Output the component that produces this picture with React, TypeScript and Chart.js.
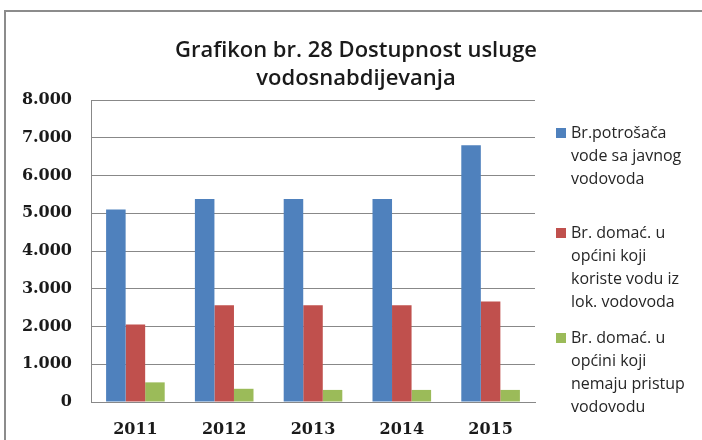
import React, { useEffect, useRef } from "react";
import { Chart, registerables } from "chart.js";

Chart.register(...registerables);

const categories = ["2011", "2012", "2013", "2014", "2015"];
const publicSupply = [5100, 5380, 5380, 5380, 6800];
const localSupply = [2050, 2560, 2560, 2560, 2660];
const noAccess = [520, 350, 320, 320, 320];
const seriesLabels = [
  ["Br.potrošača", "vode sa javnog", "vodovoda"],
  ["Br. domać. u", "općini koji", "koriste vodu iz", "lok. vodovoda"],
  ["Br. domać. u", "općini koji", "nemaju pristup", "vodovodu"],
];
const seriesColors = ["#4F81BD", "#C0504D", "#9BBB59"];
const titleLines = ["Grafikon br. 28 Dostupnost usluge", "vodosnabdijevanja"];
const yMax = 8000;
const yStep = 1000;

function fmt(v: number): string {
  const s = String(Math.round(v));
  return s.replace(/\B(?=(\d{3})+(?!\d))/g, ".");
}

const decorPlugin = {
  id: "decor",
  beforeDraw(chart: any) {
    const ctx = chart.ctx;
    ctx.save();
    ctx.fillStyle = "#ffffff";
    ctx.fillRect(0, 0, chart.width, chart.height);
    ctx.strokeStyle = "#8c8c8c";
    ctx.lineWidth = 2;
    ctx.strokeRect(5, 11, chart.width + 50, chart.height + 50);
    ctx.restore();
  },
  afterDraw(chart: any) {
    const ctx = chart.ctx;
    ctx.save();
    // title
    ctx.fillStyle = "#1a1a1a";
    ctx.font = "600 22px 'Open Sans'";
    ctx.textAlign = "center";
    ctx.textBaseline = "alphabetic";
    const maxW = [362, 212];
    titleLines.forEach((t, i) => ctx.fillText(t, 356, 57 + i * 28, maxW[i]));
    // legend
    ctx.font = "16px 'Open Sans'";
    ctx.textAlign = "left";
    ctx.textBaseline = "middle";
    const starts = [133, 233, 338];
    const lh = 23;
    seriesLabels.forEach((lines, i) => {
      ctx.fillStyle = seriesColors[i];
      ctx.fillRect(556, starts[i] - 5, 10, 10);
      ctx.fillStyle = "#262626";
      lines.forEach((l, j) => ctx.fillText(l, 571, starts[i] + j * lh));
    });
    ctx.restore();
  },
};

export default function App() {
  const ref = useRef<HTMLCanvasElement>(null);
  useEffect(() => {
    document.body.style.margin = "0";
    const chart = new Chart(ref.current!, {
      type: "bar",
      data: {
        labels: categories,
        datasets: [
          { label: seriesLabels[0].join(" "), data: publicSupply, backgroundColor: seriesColors[0] },
          { label: seriesLabels[1].join(" "), data: localSupply, backgroundColor: seriesColors[1] },
          { label: seriesLabels[2].join(" "), data: noAccess, backgroundColor: seriesColors[2] },
        ],
      },
      options: {
        animation: false,
        responsive: false,
        layout: { padding: { top: 100, right: 167, left: 0, bottom: 0 } },
        plugins: { legend: { display: false }, title: { display: false }, tooltip: { enabled: false } },
        datasets: { bar: { barPercentage: 1, categoryPercentage: 0.66 } },
        scales: {
          x: {
            grid: { display: false, drawTicks: false },
            border: { color: "#888888", width: 1 },
            ticks: { color: "#1a1a1a", font: { family: "'DejaVu Serif'", size: 16, weight: "bold" }, padding: 18 },
            afterFit(scale: any) { scale.height = 38; },
          },
          y: {
            min: 0,
            max: yMax,
            grid: { color: "#888888", lineWidth: 1, drawTicks: false },
            border: { color: "#888888", width: 1 },
            ticks: {
              stepSize: yStep,
              color: "#1a1a1a",
              font: { family: "'DejaVu Serif'", size: 16, weight: "bold" },
              padding: 19,
              callback: (v: any) => fmt(Number(v)),
            },
            afterFit(scale: any) { scale.width = 91; },
          },
        },
      },
      plugins: [decorPlugin],
    });
    return () => chart.destroy();
  }, []);
  return <canvas ref={ref} width={702} height={440} style={{ display: "block" }} />;
}
